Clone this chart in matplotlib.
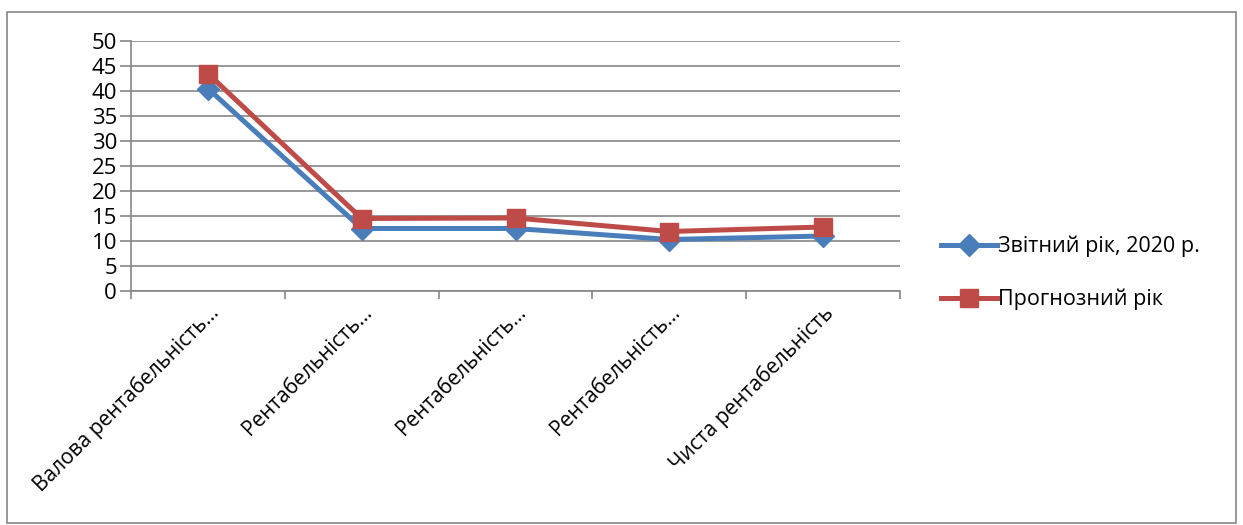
import matplotlib
matplotlib.use("Agg")
import matplotlib.pyplot as plt
from matplotlib.patches import Rectangle
import numpy as np

plt.rcParams['font.family'] = ['Open Sans', 'DejaVu Sans']

# data
categories = ['Валова рентабельність…', 'Рентабельність…', 'Рентабельність…',
              'Рентабельність…', 'Чиста рентабельність']
report_year = [40.5, 12.5, 12.5, 10.3, 11.0]
forecast_year = [43.5, 14.5, 14.6, 11.9, 12.8]
series_names = ['Звітний рік, 2020 р.', 'Прогнозний рік']

fig = plt.figure(figsize=(12.43, 5.25), dpi=100)
ax = fig.add_axes([131 / 1243, 1 - 291 / 525, 769 / 1243, 250 / 525])
ax.patch.set_alpha(0)

x = np.arange(len(categories))
ax.plot(x, report_year, color='#4a7ebb', lw=3.6, marker='D', ms=11,
        label=series_names[0], zorder=3)
ax.plot(x, forecast_year, color='#be4b48', lw=3.6, marker='s', ms=12.5,
        label=series_names[1], zorder=4)

ax.set_xlim(-0.5, len(categories) - 0.5)
ax.set_ylim(0, 50)
ax.set_yticks(np.arange(0, 51, 5))
ax.yaxis.grid(True, color='#868686', lw=1.2)
ax.set_axisbelow(True)
ax.set_xticks(x)
ax.set_xticklabels(categories, rotation=45, ha='right', rotation_mode='anchor', fontsize=15)
ax.set_xticks(np.arange(-0.5, len(categories)), minor=True)
ax.tick_params(axis='x', which='major', length=0, pad=8)
ax.tick_params(axis='x', which='minor', length=6, color='#868686', width=1.2)
ax.tick_params(axis='y', length=8, color='#868686', width=1.2, labelsize=16, pad=2)
for s in ['top', 'right']:
    ax.spines[s].set_visible(False)
for s in ['left', 'bottom']:
    ax.spines[s].set_color('#868686')
    ax.spines[s].set_linewidth(1.2)

fig.legend(loc='center left', bbox_to_anchor=(922 / 1243, 1 - 273 / 525),
           frameon=False, fontsize=15.5, handlelength=2.6, labelspacing=1.45,
           handletextpad=0.05)

fig.patches.append(Rectangle((7 / 1243, 2 / 525), 1229 / 1243, 511 / 525,
                             transform=fig.transFigure, fill=False,
                             edgecolor='#868686', lw=1.2))
fig.savefig('out.png', dpi=100)
